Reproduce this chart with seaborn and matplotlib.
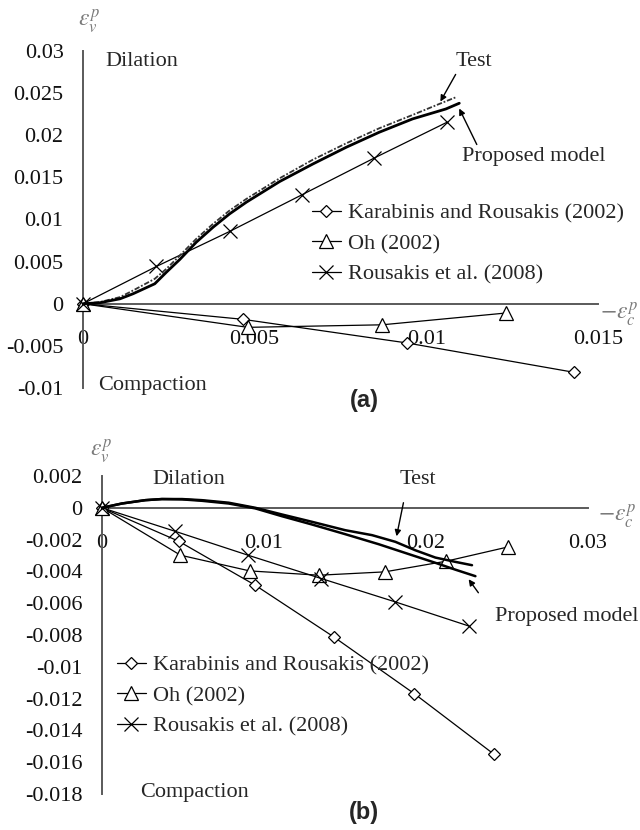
import matplotlib
matplotlib.use("Agg")
import matplotlib.pyplot as plt
from matplotlib.lines import Line2D
import seaborn as sns
import pandas as pd

# ---------------- data: panel (a) ----------------
a_kr_x = [0, 0.00466, 0.00943, 0.01429]
a_kr_y = [0, -0.00185, -0.00465, -0.00813]
a_oh_x = [0, 0.0048, 0.00871, 0.01232]
a_oh_y = [0, -0.0028, -0.0025, -0.0011]
a_rs_x = [0, 0.00214, 0.00427, 0.00639, 0.00849, 0.0106]
a_rs_y = [0, 0.00443, 0.00858, 0.01296, 0.01731, 0.02154]
a_test_x = [0, 0.00049, 0.00108, 0.00146, 0.00209, 0.00243, 0.00282, 0.0033, 0.00379,
            0.00427, 0.00476, 0.00573, 0.0067, 0.00767, 0.00863, 0.0096, 0.01038, 0.01086]
a_test_y = [0, 0.0002, 0.00079, 0.00158, 0.00296, 0.00415, 0.00573, 0.00771, 0.00949,
            0.01107, 0.01245, 0.0149, 0.01711, 0.01905, 0.02083, 0.02241, 0.02372, 0.02451]
a_mod_x = [0, 0.00049, 0.00108, 0.00146, 0.00209, 0.00243, 0.00282, 0.0033, 0.00379,
           0.00427, 0.00476, 0.00573, 0.0067, 0.00767, 0.00863, 0.0096, 0.01057, 0.01096]
a_mod_y = [0, 0.00012, 0.00059, 0.00119, 0.00237, 0.00375, 0.00526, 0.00731, 0.00909,
           0.01067, 0.01206, 0.01451, 0.0166, 0.01858, 0.02036, 0.02194, 0.02312, 0.0238]
a_xticks = [0, 0.005, 0.01, 0.015]
a_xlabels = ["0", "0.005", "0.01", "0.015"]
a_yticks = [0.03, 0.025, 0.02, 0.015, 0.01, 0.005, 0, -0.005, -0.01]
a_ylabels = ["0.03", "0.025", "0.02", "0.015", "0.01", "0.005", "0", "-0.005", "-0.01"]

# ---------------- data: panel (b) ----------------
b_kr_x = [0, 0.00473, 0.00946, 0.01432, 0.01929, 0.02417]
b_kr_y = [0, -0.0021, -0.00487, -0.00813, -0.0117, -0.01548]
b_oh_x = [0, 0.00484, 0.00912, 0.0134, 0.01745, 0.02124, 0.02507]
b_oh_y = [0, -0.00298, -0.00397, -0.00424, -0.00403, -0.00336, -0.00246]
b_rs_x = [0, 0.00449, 0.00901, 0.01354, 0.01811, 0.02263]
b_rs_y = [0, -0.00147, -0.00298, -0.00445, -0.00592, -0.00743]
b_test_x = [0, 0.00123, 0.00267, 0.0037, 0.00494, 0.00617, 0.00782, 0.00947, 0.01111,
            0.01296, 0.01502, 0.01667, 0.01811, 0.01934, 0.02058, 0.02181, 0.02284]
b_test_y = [0, 0.00027, 0.00048, 0.00055, 0.00055, 0.00048, 0.00032, 0, -0.00042,
            -0.00088, -0.00141, -0.00172, -0.00214, -0.00267, -0.00313, -0.0034, -0.00361]
b_mod_x = [0, 0.00123, 0.00267, 0.0037, 0.00494, 0.00617, 0.00782, 0.00947, 0.01111,
           0.01296, 0.01502, 0.01708, 0.01914, 0.02058, 0.02181, 0.02305]
b_mod_y = [0, 0.00027, 0.00048, 0.00055, 0.00053, 0.00044, 0.00027, -0.00004, -0.00053,
           -0.00105, -0.00166, -0.00229, -0.00298, -0.00346, -0.00389, -0.0043]
b_xticks = [0, 0.01, 0.02, 0.03]
b_xlabels = ["0", "0.01", "0.02", "0.03"]
b_yticks = [0.002, 0, -0.002, -0.004, -0.006, -0.008, -0.01, -0.012, -0.014, -0.016, -0.018]
b_ylabels = ["0.002", "0", "-0.002", "-0.004", "-0.006", "-0.008", "-0.01", "-0.012",
             "-0.014", "-0.016", "-0.018"]

legend_labels = ["Karabinis and Rousakis (2002)", "Oh (2002)", "Rousakis et al. (2008)"]

# ---------------- style ----------------
sns.set_style("white")
plt.rcParams["font.family"] = ["Liberation Serif", "DejaVu Serif"]
plt.rcParams["mathtext.fontset"] = "stix"
plt.rcParams["axes.unicode_minus"] = False

W, H = 640, 830
fig = plt.figure(figsize=(6.4, 8.3), dpi=100)

def box(l, r, t, b):
    return [l / W, 1 - b / H, (r - l) / W, (b - t) / H]

FS = 16
AX_COL = "#5a5a5a"

mk = dict(kr=dict(marker="D", markersize=6.2), oh=dict(marker="^", markersize=9.5),
          rs=dict(marker="x", markersize=10))

def series(ax, x, y, kind):
    df = pd.DataFrame({"x": x, "y": y})
    sns.lineplot(data=df, x="x", y="y", ax=ax, sort=False, estimator=None,
                 color="black", linewidth=0.9, markerfacecolor="white",
                 markeredgecolor="black", markeredgewidth=0.9, clip_on=False,
                 zorder=3, **mk[kind])

def curve(ax, x, y, lw, ls="-", color="black"):
    df = pd.DataFrame({"x": x, "y": y})
    sns.lineplot(data=df, x="x", y="y", ax=ax, sort=False, estimator=None,
                 color=color, linewidth=lw, linestyle=ls, clip_on=False, zorder=4)

def style_axes(ax, xlim, ylim, xt, xl, yt, yl):
    ax.set_xlim(*xlim)
    ax.set_ylim(*ylim)
    for s in ["top", "right"]:
        ax.spines[s].set_visible(False)
    ax.spines["bottom"].set_position(("data", 0))
    for s in ["left", "bottom"]:
        ax.spines[s].set_color(AX_COL)
        ax.spines[s].set_linewidth(1.4)
    ax.set_xticks(xt)
    ax.set_xticklabels(xl)
    ax.set_yticks(yt)
    ax.set_yticklabels(yl)
    ax.tick_params(axis="both", direction="in", length=6, width=1.2, color=AX_COL,
                   labelsize=FS, labelcolor="#111111")
    ax.tick_params(axis="x", pad=19)
    ax.tick_params(axis="y", pad=14)
    ax.set_xlabel("")
    ax.set_ylabel("")
    ax.patch.set_alpha(0)

def legend(ax, x_px, y_px):
    handles = [Line2D([], [], color="black", lw=0.9, markerfacecolor="white",
                      markeredgecolor="black", markeredgewidth=0.9, **mk[k])
               for k in ["kr", "oh", "rs"]]
    ax.legend(handles, legend_labels, loc="upper left", frameon=False,
              bbox_to_anchor=(x_px / W, 1 - y_px / H), bbox_transform=fig.transFigure,
              fontsize=FS, handlelength=1.3, handletextpad=0.3, labelspacing=0.45,
              borderpad=0, borderaxespad=0, numpoints=1)

def ftext(x_px, y_px, s, **kw):
    fig.text(x_px / W, 1 - y_px / H, s, **kw)

def farrow(x0, y0, x1, y1):
    fig.add_artist(matplotlib.patches.FancyArrowPatch(
        (x0 / W, 1 - y0 / H), (x1 / W, 1 - y1 / H), transform=fig.transFigure,
        arrowstyle="-|>", mutation_scale=9, lw=1.0, color="black"))

EPS_KW = dict(fontsize=17, color="#7a7a7a", va="center")

# ---------------- panel (a) ----------------
axa = fig.add_axes(box(83, 598, 51, 388))
curve(axa, a_test_x, a_test_y, 1.3, ls=(0, (3, 1, 1, 1)), color="#333333")
curve(axa, a_mod_x, a_mod_y, 2.0)
series(axa, a_kr_x, a_kr_y, "kr")
series(axa, a_oh_x, a_oh_y, "oh")
series(axa, a_rs_x, a_rs_y, "rs")
style_axes(axa, (0, 0.015), (-0.01, 0.03), a_xticks, a_xlabels, a_yticks, a_ylabels)
legend(axa, 312, 203)

ftext(105, 62, "Dilation", fontsize=FS, va="center", ha="left")
ftext(98, 385, "Compaction", fontsize=FS, va="center", ha="left")
ftext(456, 62, "Test", fontsize=FS, va="center", ha="left")
ftext(462, 157, "Proposed model", fontsize=FS, va="center", ha="left")
farrow(457, 72, 439, 104)
farrow(478, 147, 458, 106)
ftext(89, 21, r"$\varepsilon_v^p$", ha="center", **EPS_KW)
ftext(600, 314, r"$-\varepsilon_c^p$", ha="left", **EPS_KW)
ftext(364, 400, "(a)", fontsize=17, fontweight="bold", va="center", ha="center",
      family=["Liberation Sans", "DejaVu Sans"])

# ---------------- panel (b) ----------------
axb = fig.add_axes(box(102, 588, 476, 794))
series(axb, b_kr_x, b_kr_y, "kr")
series(axb, b_oh_x, b_oh_y, "oh")
series(axb, b_rs_x, b_rs_y, "rs")
curve(axb, b_test_x, b_test_y, 1.8)
curve(axb, b_mod_x, b_mod_y, 1.8)
style_axes(axb, (0, 0.03), (-0.018, 0.002), b_xticks, b_xlabels, b_yticks, b_ylabels)
legend(axb, 117, 655)

ftext(152, 479, "Dilation", fontsize=FS, va="center", ha="left")
ftext(140, 792, "Compaction", fontsize=FS, va="center", ha="left")
ftext(400, 479, "Test", fontsize=FS, va="center", ha="left")
ftext(495, 617, "Proposed model", fontsize=FS, va="center", ha="left")
farrow(404, 500, 396, 539)
farrow(480, 595, 467, 577)
ftext(101, 451, r"$\varepsilon_v^p$", ha="center", **EPS_KW)
ftext(598, 516, r"$-\varepsilon_c^p$", ha="left", **EPS_KW)
ftext(364, 812, "(b)", fontsize=17, fontweight="bold", va="center", ha="center",
      family=["Liberation Sans", "DejaVu Sans"])

fig.savefig("out.png", dpi=100)
